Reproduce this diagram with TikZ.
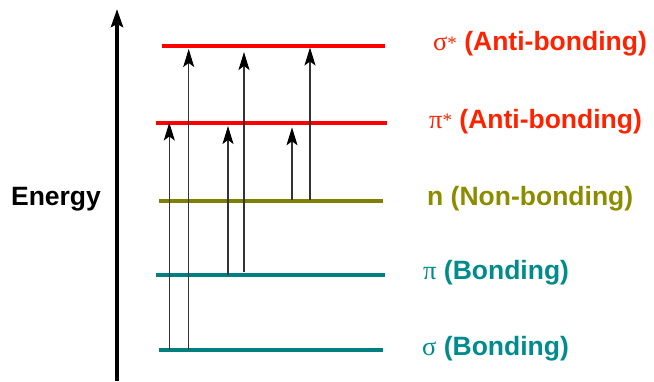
\documentclass[tikz,border=0pt]{standalone}
\usepackage{fontspec}
\setmainfont{Liberation Sans}
\newfontfamily\grk{Liberation Serif}
\usetikzlibrary{arrows.meta}
\definecolor{lvred}{HTML}{FF0000}
\definecolor{lblred}{HTML}{FF2200}
\definecolor{lvolive}{HTML}{808000}
\definecolor{lblolive}{HTML}{8C8C00}
\definecolor{lvteal}{HTML}{008080}
\definecolor{lblteal}{HTML}{008C8C}
\definecolor{arrgray}{HTML}{333333}
\newcommand{\gstar}{\raisebox{1.5pt}{\fontsize{19}{19}\selectfont *}}
\begin{document}
\begin{tikzpicture}[x=1pt,y=-1pt,
  level/.style={line width=4pt},
  lbl/.style={anchor=west,inner sep=0pt,font=\fontsize{26.5}{30}\selectfont\bfseries},
  trans/.style={arrgray,line width=1.5pt,-{Stealth[length=18pt,width=11pt,inset=4pt,black]}},
  axis/.style={black,line width=4pt,-{Stealth[length=18pt,width=12pt,inset=3pt]}}]
\useasboundingbox (0,0) rectangle (654,381);
% levels
\coordinate (sgsL) at (162,45.7);  \coordinate (sgsR) at (385,45.7);
\coordinate (pisL) at (156,123.3); \coordinate (pisR) at (387,123.3);
\coordinate (nL) at (159,200.7);   \coordinate (nR) at (383,200.7);
\coordinate (piL) at (156,275);    \coordinate (piR) at (385,275);
\coordinate (sgL) at (159,350);    \coordinate (sgR) at (383,350);
\draw[level,lvred] (sgsL) -- (sgsR);
\draw[level,lvred] (pisL) -- (pisR);
\draw[level,lvolive] (nL) -- (nR);
\draw[level,lvteal] (piL) -- (piR);
\draw[level,lvteal] (sgL) -- (sgR);
% axis
\coordinate (axB) at (117,381);
\coordinate (axT) at (117,9);
\draw[axis] (axB) -- (axT);
\node[lbl,anchor=center] (energy) at (56,199) {Energy};
% transitions
\coordinate (a1s) at (169.3,350); \coordinate (a1e) at (169.3,122.5);
\coordinate (a2s) at (188.7,350); \coordinate (a2e) at (188.7,49);
\coordinate (a3s) at (228,275);   \coordinate (a3e) at (228,126);
\coordinate (a4s) at (244,271.5); \coordinate (a4e) at (244,52);
\coordinate (a5s) at (292,200);   \coordinate (a5e) at (292,127.3);
\coordinate (a6s) at (310,200);   \coordinate (a6e) at (310,47.5);
\foreach \s/\e in {a1s/a1e,a2s/a2e,a3s/a3e,a4s/a4e,a5s/a5e,a6s/a6e}
  \draw[trans] (\s) -- (\e);
% labels
\node[lbl,lblred] (lsgs) at (433,44) {{\mdseries\grk σ\gstar} (Anti-bonding)};
\node[lbl,lblred] (lpis) at (429,121.5) {{\mdseries\grk π\gstar} (Anti-bonding)};
\node[lbl,lblolive] (ln) at (427,198.5) {n (Non-bonding)};
\node[lbl,lblteal] (lpi) at (423,273) {{\mdseries\grk π} (Bonding)};
\node[lbl,lblteal] (lsg) at (422,348.5) {{\mdseries\grk σ} (Bonding)};
\end{tikzpicture}
\end{document}
